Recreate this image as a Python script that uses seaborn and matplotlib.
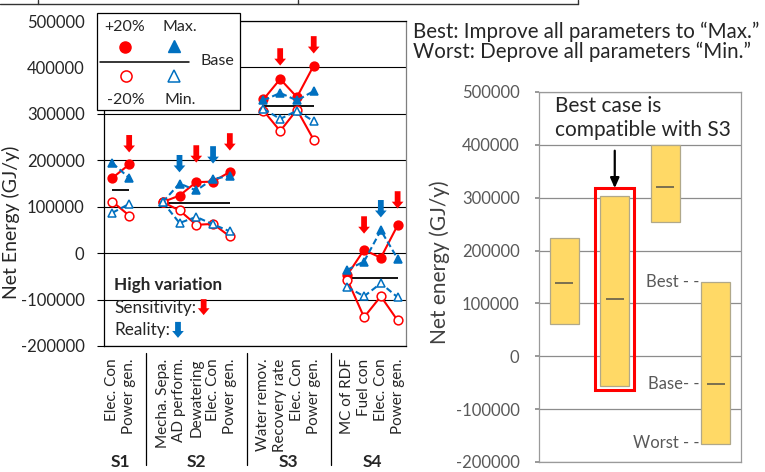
import numpy as np
import pandas as pd
import matplotlib
matplotlib.use("Agg")
import matplotlib.pyplot as plt
import seaborn as sns
from matplotlib.patches import Rectangle
from matplotlib.lines import Line2D

# ---------------- data ----------------
groups = ["S1", "S2", "S3", "S4"]
group_params = [
    ["Elec. Con", "Power gen."],
    ["Mecha. Sepa.", "AD perform.", "Dewatering", "Elec. Con", "Power gen."],
    ["Water remov.", "Recovery rate", "Elec. Con", "Power gen."],
    ["MC of RDF", "Fuel con", "Elec. Con", "Power gen."],
]
plus20 = [[162000, 191000],
          [110000, 124000, 153000, 154000, 175000],
          [331000, 375000, 336000, 404000],
          [-47000, 7000, -10000, 60000]]
max_vals = [[194000, 162000],
            [110000, 150000, 135000, 160000, 166000],
            [329000, 345000, 329000, 349000],
            [-36000, -18000, 49000, -12000]]
minus20 = [[111000, 81000],
           [110000, 92000, 61000, 63000, 36000],
           [307000, 263000, 309000, 244000],
           [-57000, -138000, -93000, -145000]]
min_vals = [[87000, 106000],
            [110000, 65000, 78000, 62000, 47000],
            [311000, 289000, 307000, 284000],
            [-73000, -93000, -65000, -95000]]
base_left = [135000, 108000, 318000, -53000]

# high-variation arrows: (group, parameter index, arrow tip value)
sens_arrows = [("S1", 1, 217000), ("S2", 2, 195000), ("S2", 4, 221000),
               ("S3", 1, 404000), ("S3", 3, 430000),
               ("S4", 1, 42000), ("S4", 3, 96000)]
real_arrows = [("S2", 1, 174000), ("S2", 3, 193000), ("S4", 2, 77000)]

# right chart
best_case = [223000, 303000, 400000, 140000]
worst_case = [61000, -56000, 254000, -165000]
base_case = [138000, 109000, 321000, -52000]

yticks = [-200000, -100000, 0, 100000, 200000, 300000, 400000, 500000]

# ---------------- style ----------------
RED = "#FF0000"
BLUE = "#0070C0"
sns.set_theme(style="white")
plt.rcParams["font.family"] = ["Lato", "DejaVu Sans"]

fig = plt.figure(figsize=(7.65, 4.72), dpi=100)
W, H = 765, 472


def fbox(x0, y0, x1, y1):
    return [x0 / W, 1 - y1 / H, (x1 - x0) / W, (y1 - y0) / H]


# ---------------- left chart ----------------
ax = fig.add_axes(fbox(104, 21, 406, 346))

rows = []
pos = 0
group_pos = {}
gap_pos = []
for gi, g in enumerate(groups):
    plist = []
    for j, p in enumerate(group_params[gi]):
        rows.append(dict(group=g, pos=pos, param=p,
                         **{"+20%": plus20[gi][j], "Max.": max_vals[gi][j],
                            "-20%": minus20[gi][j], "Min.": min_vals[gi][j]}))
        plist.append(pos)
        pos += 1
    group_pos[g] = plist
    if gi < len(groups) - 1:
        gap_pos.append(pos)
        pos += 1
n_slots = pos
df = pd.DataFrame(rows)
long = df.melt(id_vars=["group", "pos", "param"],
               value_vars=["+20%", "-20%", "Max.", "Min."],
               var_name="series", value_name="net")

styles = {
    "+20%": dict(color=RED, ls="-", marker="o", mfc=RED, mec=RED),
    "-20%": dict(color=RED, ls="-", marker="o", mfc="white", mec=RED),
    "Max.": dict(color=BLUE, ls=(0, (3, 1.6)), marker="^", mfc=BLUE, mec=BLUE),
    "Min.": dict(color=BLUE, ls=(0, (3, 1.6)), marker="^", mfc="white", mec=BLUE),
}
for s in ["+20%", "-20%", "Max.", "Min."]:
    st = styles[s]
    sns.lineplot(data=long[long.series == s], x="pos", y="net", units="group",
                 estimator=None, sort=False, ax=ax, legend=False,
                 color=st["color"], linestyle=st["ls"], lw=1.5,
                 marker=st["marker"], ms=6.3, mfc=st["mfc"], mec=st["mec"],
                 mew=1.1, zorder=4)

# base lines per group
for gi, g in enumerate(groups):
    ax.hlines(base_left[gi], group_pos[g][0], group_pos[g][-1],
              color="black", lw=1.3, zorder=3)

ax.set_xlim(-0.5, n_slots - 0.5)
ax.set_ylim(-200000, 500000)
ax.set_yticks(yticks)
ax.set_yticklabels([str(v) for v in yticks], fontsize=12)
ax.set_xticks(df["pos"])
ax.set_xticklabels(df["param"], rotation=90, fontsize=11)
ax.tick_params(axis="x", length=0, pad=9)
ax.tick_params(axis="y", length=5, width=0.8, color="black", pad=9,
               direction="out", left=True)
ax.set_xlabel("")
ax.set_ylabel("")
ax.yaxis.grid(True, color="black", lw=0.8)
ax.xaxis.grid(False)
for side in ["left", "bottom", "top"]:
    ax.spines[side].set_color("black")
    ax.spines[side].set_linewidth(0.9)
ax.spines["right"].set_color("#7f7f7f")
ax.spines["right"].set_linewidth(0.9)

xtr = ax.get_xaxis_transform()
for gp in gap_pos:
    ax.add_line(Line2D([gp, gp], [-0.022, -0.365], transform=xtr, color="black",
                       lw=0.9, clip_on=False))
for g in groups:
    cx = np.mean(group_pos[g])
    ax.text(cx, -0.383, g, transform=xtr, ha="center", va="bottom",
            fontsize=12.5, fontweight="bold", clip_on=False)


def block_arrow(axis, x, y, color, coords="data", length=12.5):
    axis.annotate("", xy=(x, y), xycoords=coords, xytext=(0, length),
                  textcoords="offset points",
                  arrowprops=dict(arrowstyle="simple,head_length=0.62,head_width=1.05,tail_width=0.52",
                                  fc=color, ec="none", lw=0, shrinkA=0, shrinkB=0,
                                  mutation_scale=8),
                  zorder=6, annotation_clip=False)


for g, j, tip in sens_arrows:
    block_arrow(ax, group_pos[g][j], tip, RED)
for g, j, tip in real_arrows:
    block_arrow(ax, group_pos[g][j], tip, BLUE)

# annotation text (High variation)
ax.text(0.033, 0.188, "High variation", transform=ax.transAxes, fontsize=12.3,
        fontweight="bold", va="center", ha="left")
ax.text(0.033, 0.117, "Sensitivity:", transform=ax.transAxes, fontsize=12.3,
        va="center", ha="left")
ax.text(0.033, 0.049, "Reality:", transform=ax.transAxes, fontsize=12.3,
        va="center", ha="left")
block_arrow(ax, 0.33, 0.095, RED, coords="axes fraction", length=11.5)
block_arrow(ax, 0.245, 0.025, BLUE, coords="axes fraction", length=11.5)

# custom legend box
def axx(px):
    return (px - 104) / 302


def axy(py):
    return (346 - py) / 325


ax.add_patch(Rectangle((axx(97), axy(110)), axx(240) - axx(97), axy(13) - axy(110),
                       transform=ax.transAxes, fc="white", ec="black", lw=0.9,
                       zorder=10, clip_on=False))
leg_fs = 11.5
for txt, px, py in [("+20%", 125, 27), ("Max.", 180, 27), ("Base", 217, 61),
                    ("-20%", 126, 100), ("Min.", 180, 100)]:
    ax.text(axx(px), axy(py), txt, transform=ax.transAxes, ha="center", va="center",
            fontsize=leg_fs, zorder=11, clip_on=False)
ax.plot([axx(125)], [axy(46.5)], "o", ms=8, mfc=RED, mec=RED, transform=ax.transAxes,
        zorder=11, clip_on=False)
ax.plot([axx(174)], [axy(45.5)], "^", ms=8.5, mfc=BLUE, mec=BLUE, transform=ax.transAxes,
        zorder=11, clip_on=False)
ax.plot([axx(126)], [axy(76)], "o", ms=8, mfc="white", mec=RED, mew=1.1,
        transform=ax.transAxes, zorder=11, clip_on=False)
ax.plot([axx(174)], [axy(75.5)], "^", ms=8.5, mfc="white", mec=BLUE, mew=1.1,
        transform=ax.transAxes, zorder=11, clip_on=False)
ax.plot([axx(100), axx(189)], [axy(61.5), axy(61.5)], color="black", lw=1.1,
        transform=ax.transAxes, zorder=11, clip_on=False)

# left y label (kept just inside the figure edge)
fig.text(11 / W, 1 - 222 / H, "Net Energy (GJ/y)", rotation=90, ha="center",
         va="center", fontsize=14)

# ---------------- right chart ----------------
ax2 = fig.add_axes(fbox(539, 92, 741, 462))
rdf = pd.DataFrame({"scenario": groups,
                    "span": np.array(best_case) - np.array(worst_case),
                    "worst": worst_case, "best": best_case, "base": base_case})
sns.barplot(data=rdf, x="scenario", y="span", order=groups, color="#FFD966",
            edgecolor="#B0A88A", linewidth=0.9, width=0.57, saturation=1,
            ax=ax2, zorder=3)
for patch, b in zip(ax2.patches, rdf["worst"]):
    patch.set_y(b)
xs = np.arange(len(groups))
ax2.hlines(rdf["base"], xs - 0.18, xs + 0.18, color="#7a7050", lw=1.4, zorder=4)

ax2.set_xlim(-0.5, 3.5)
ax2.set_ylim(-200000, 500000)
ax2.set_yticks(yticks)
ax2.set_yticklabels([str(v) for v in yticks], fontsize=12, color="#595959")
ax2.set_xticks([])
ax2.set_xlabel("")
ax2.set_ylabel("")
ax2.tick_params(axis="y", length=3, color="#8c8c8c", direction="out", left=True, pad=11)
ax2.yaxis.grid(True, color="#8c8c8c", lw=0.9, zorder=0)
ax2.set_axisbelow(True)
for sp in ax2.spines.values():
    sp.set_color("#9a9a9a")
    sp.set_linewidth(0.9)

fig.text(440 / W, 1 - 262 / H, "Net energy (GJ/y)", rotation=90, ha="center",
         va="center", fontsize=15, color="#404040")

# highlight S2 box
hi = 1
ax2.add_patch(Rectangle((hi - 0.385, worst_case[hi] - 8000), 0.77,
                        best_case[hi] - worst_case[hi] + 23000,
                        fill=False, ec=RED, lw=2.2, zorder=5))
ax2.annotate("", xy=(hi, best_case[hi] + 15000), xytext=(0, 27),
             textcoords="offset points",
             arrowprops=dict(arrowstyle="-|>,head_length=0.5,head_width=0.22",
                             color="black", lw=1.6, shrinkA=0, shrinkB=0),
             zorder=6)
ax2.text(0.08, 0.929, "Best case is\ncompatible with S3", transform=ax2.transAxes,
         ha="left", va="center", fontsize=15, linespacing=1.25)

# Best/Base/Worst markers at S4
lab_x = 3 - 0.57 / 2 - 0.04
for txt, v in [("Best - -", best_case[3]), ("Base- -", base_case[3]),
               ("Worst - -", worst_case[3])]:
    ax2.text(lab_x, v, txt, ha="right", va="center", fontsize=12, color="#595959",
             zorder=6)

# header texts
fig.text(413 / W, 1 - 38 / H, "Best: Improve all parameters to \u201cMax.\u201d",
         ha="left", va="baseline", fontsize=14.8)
fig.text(413 / W, 1 - 58 / H, "Worst: Deprove all parameters \u201cMin.\u201d",
         ha="left", va="baseline", fontsize=14.8)

# cropped table edge at the top
fig.add_artist(Line2D([0, 578 / W], [1 - 4 / H, 1 - 4 / H], color="#333333", lw=1.0))
for px in [38, 298, 578]:
    fig.add_artist(Line2D([px / W, px / W], [1 - 4 / H, 1.0], color="#333333", lw=1.0))

fig.savefig("out.png", dpi=100)
